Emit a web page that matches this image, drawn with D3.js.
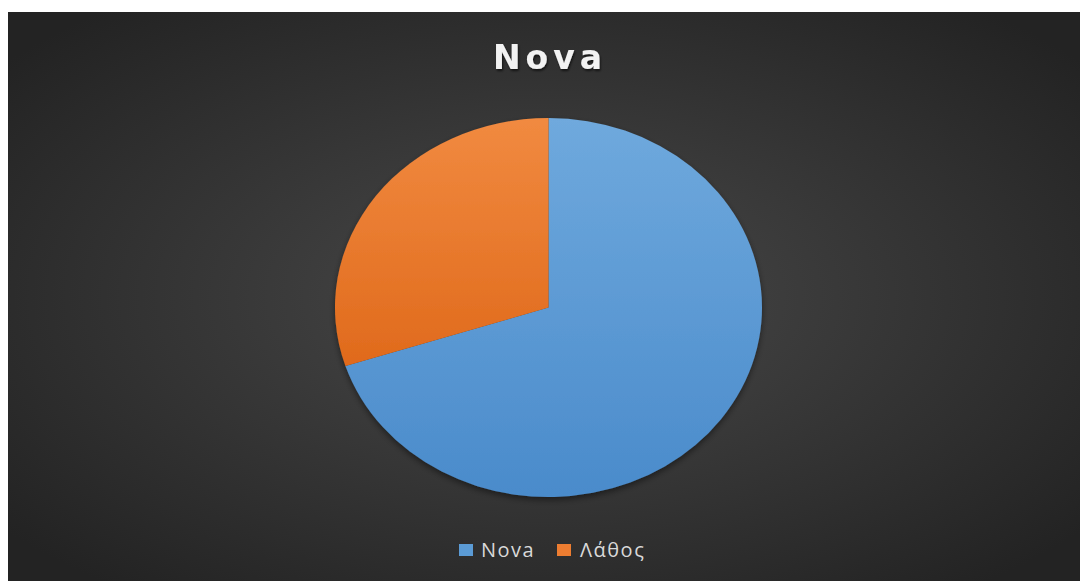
<!DOCTYPE html>
<html>
<head>
<meta charset="utf-8">
<script src="https://cdn.jsdelivr.net/npm/d3@7"></script>
<style>
  html, body { margin: 0; padding: 0; background: #ffffff; }
  svg { display: block; }
</style>
</head>
<body>
<svg id="chart" width="1080" height="581"></svg>
<script>
// Pie data
const categories = ["Nova", "Λάθος"];
const values = [70, 30];
const colors = ["#5b9bd5", "#ed7d31"];
const title = "Nova";

const W = 1080, H = 581;
const svg = d3.select("#chart");
const defs = svg.append("defs");

// Dark panel with radial glow
const bg = defs.append("radialGradient").attr("id", "bgGrad")
  .attr("cx", "50%").attr("cy", "50%").attr("r", "65%");
bg.append("stop").attr("offset", "0%").attr("stop-color", "#494949");
bg.append("stop").attr("offset", "100%").attr("stop-color", "#232323");

const panel = { x: 8, y: 12, w: W - 8, h: H - 12 };
svg.append("rect")
  .attr("x", panel.x).attr("y", panel.y)
  .attr("width", panel.w).attr("height", panel.h)
  .attr("fill", "url(#bgGrad)");

// Slice gradients (lighter top, deeper bottom)
const shades = [["#6fa9dd", "#4a8bcb"], ["#f18a40", "#e06a1c"]];
shades.forEach((s, i) => {
  const g = defs.append("linearGradient").attr("id", "slice" + i)
    .attr("x1", 0).attr("y1", 0).attr("x2", 0).attr("y2", 1)
    .attr("gradientUnits", "objectBoundingBox");
  g.append("stop").attr("offset", "0%").attr("stop-color", s[0]);
  g.append("stop").attr("offset", "100%").attr("stop-color", s[1]);
});

const shadow = defs.append("filter").attr("id", "shadow")
  .attr("x", "-10%").attr("y", "-10%").attr("width", "120%").attr("height", "125%");
shadow.append("feDropShadow").attr("dx", 0).attr("dy", 3).attr("stdDeviation", 3)
  .attr("flood-color", "#000").attr("flood-opacity", 0.45);

const tshadow = defs.append("filter").attr("id", "tshadow");
tshadow.append("feDropShadow").attr("dx", 1).attr("dy", 2).attr("stdDeviation", 1.2)
  .attr("flood-color", "#000").attr("flood-opacity", 0.6);

// Title
svg.append("text")
  .attr("x", 550).attr("y", 69)
  .attr("text-anchor", "middle")
  .attr("font-family", "'DejaVu Sans', sans-serif")
  .attr("font-weight", 700)
  .attr("font-size", 33)
  .attr("letter-spacing", 5)
  .attr("fill", "#f2f2f2")
  .attr("filter", "url(#tshadow)")
  .text(title);

// Pie (elliptical: drawn on a circle and stretched horizontally)
const cx = 548.5, cy = 307.5, rx = 213.5, ry = 189.5;
const pie = d3.pie().sort(null).value(d => d)(values);
const arc = d3.arc().innerRadius(0).outerRadius(ry);

const g = svg.append("g")
  .attr("transform", `translate(${cx},${cy}) scale(${rx / ry},1)`)
  .attr("filter", "url(#shadow)");

g.selectAll("path")
  .data(pie)
  .join("path")
  .attr("d", arc)
  .attr("fill", (d, i) => `url(#slice${i})`);

// Legend
const legendY = 550;
const legend = svg.append("g");
const items = [
  { x: 459, tx: 481 },
  { x: 557, tx: 580 }
];
categories.forEach((c, i) => {
  legend.append("rect")
    .attr("x", items[i].x).attr("y", legendY - 6)
    .attr("width", 14).attr("height", 12)
    .attr("fill", colors[i]);
  legend.append("text")
    .attr("x", items[i].tx).attr("y", legendY + 7)
    .attr("font-family", "'Open Sans', 'Noto Sans', sans-serif")
    .attr("font-size", 20)
    .attr("letter-spacing", 1.5)
    .attr("fill", "#d9d9d9")
    .text(c);
});
</script>
</body>
</html>
